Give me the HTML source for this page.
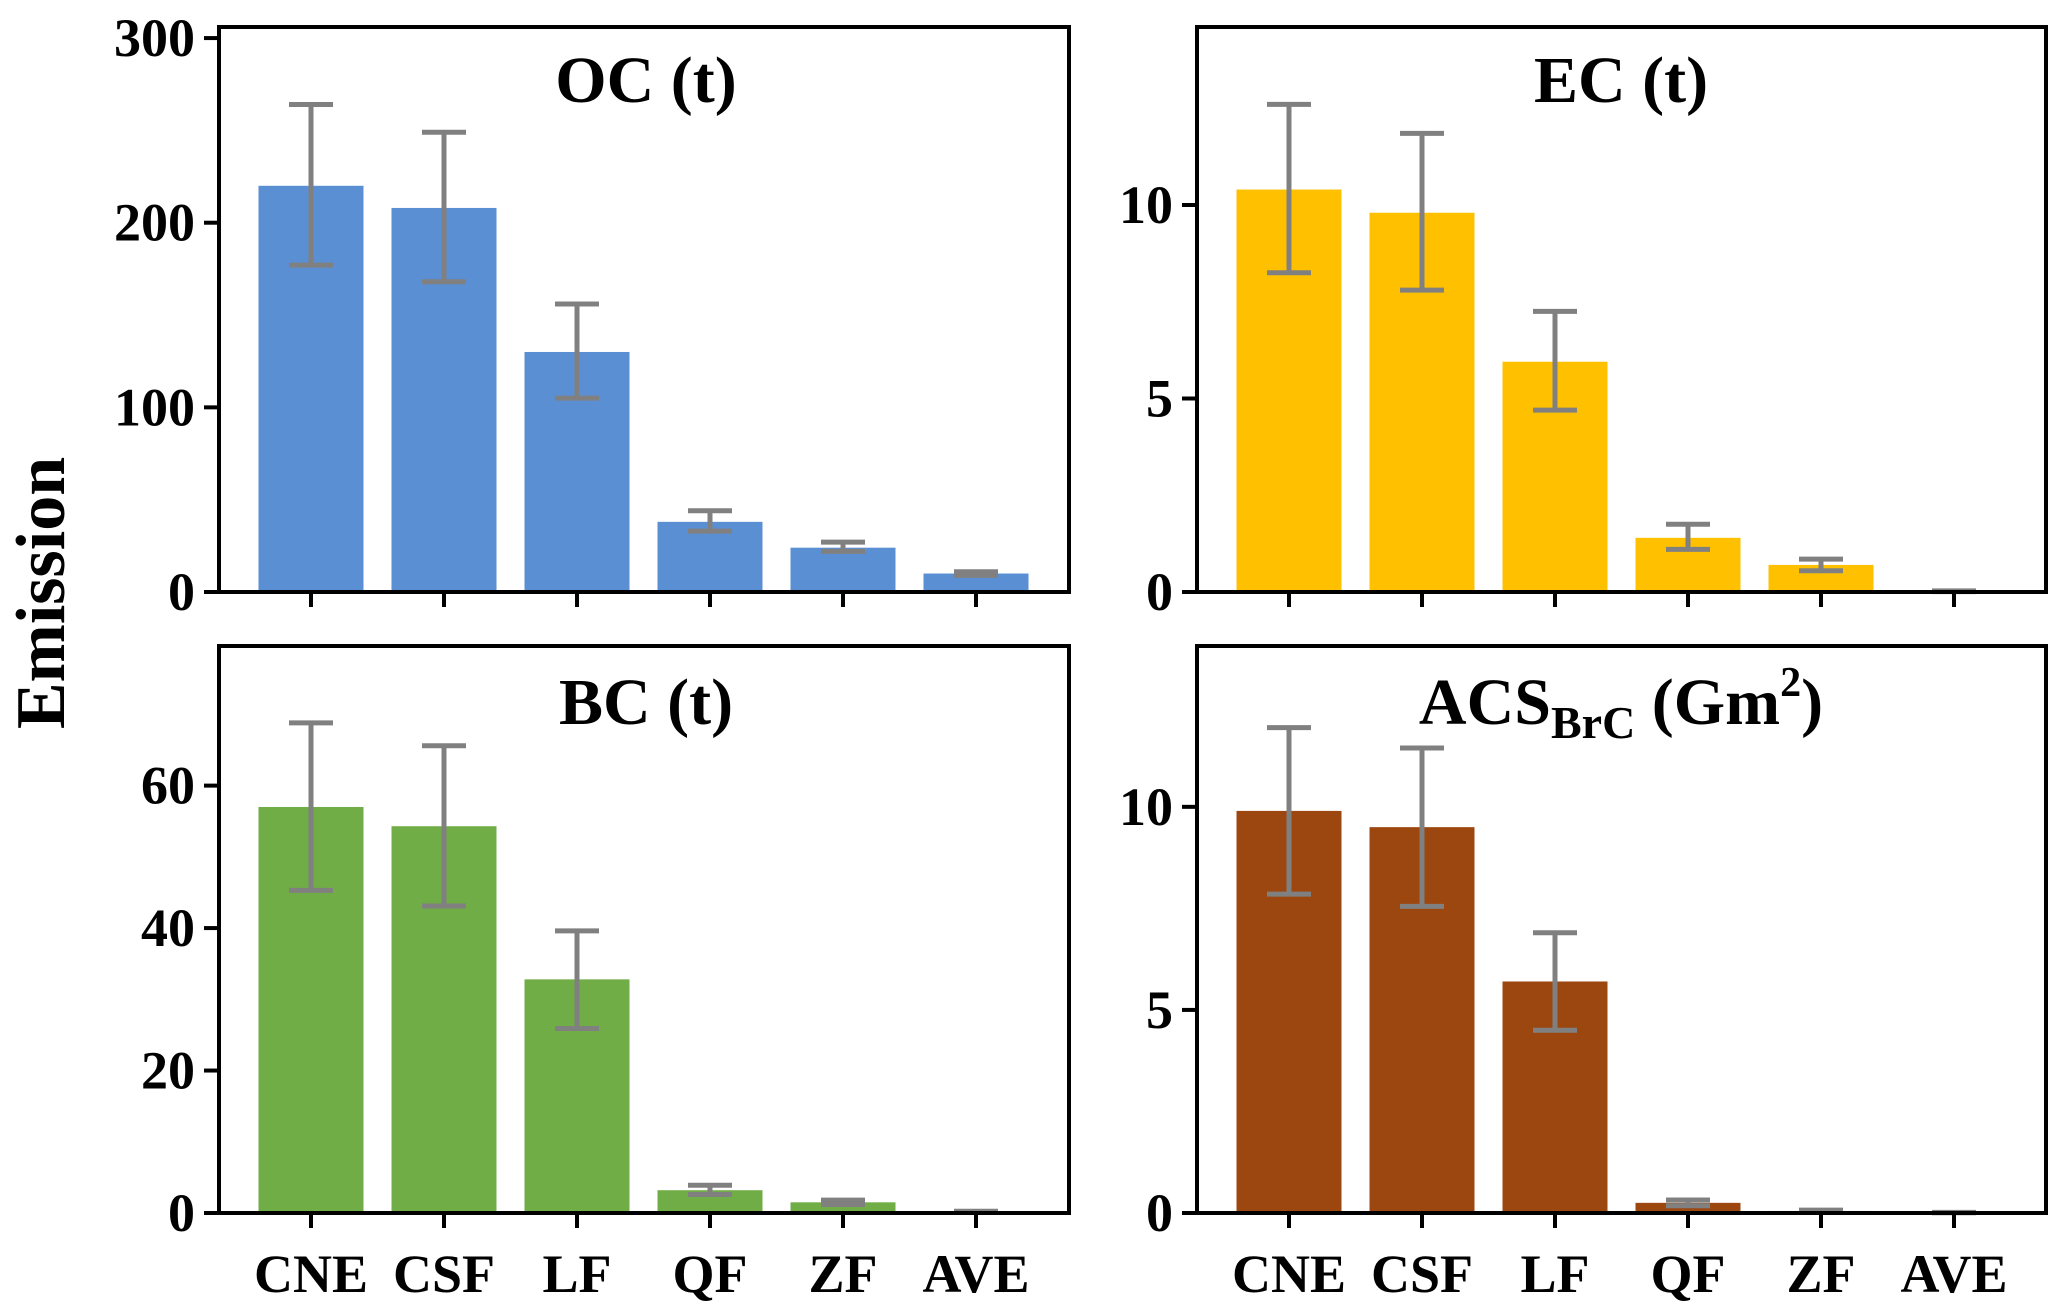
<!DOCTYPE html>
<html><head><meta charset="utf-8"><style>
html,body{margin:0;padding:0;background:#fff}
svg{display:block;font-family:"Liberation Serif",serif;font-weight:bold}
</style></head><body>
<svg id="chart" width="2067" height="1315" viewBox="0 0 2067 1315" xmlns="http://www.w3.org/2000/svg">
<text transform="translate(64,593) rotate(-90)" text-anchor="middle" font-size="70">Emission</text>
</svg>
<script>
const categories = ["CNE","CSF","LF","QF","ZF","AVE"];
const ocValues = [220,208,130,38,24,10];
const ocLow = [177,168,105,33,22,9];
const ocHigh = [264,249,156,44,27,11];
const ecValues = [10.4,9.8,5.95,1.4,0.7,0.02];
const ecLow = [8.25,7.8,4.7,1.1,0.55,0.01];
const ecHigh = [12.6,11.85,7.25,1.75,0.85,0.03];
const bcValues = [57,54.3,32.8,3.2,1.5,0.2];
const bcLow = [45.3,43.1,25.9,2.6,1.2,0.15];
const bcHigh = [68.8,65.6,39.6,3.9,1.8,0.25];
const acsValues = [9.9,9.5,5.7,0.25,0.05,0.01];
const acsLow = [7.85,7.55,4.5,0.18,0.03,0.005];
const acsHigh = [11.95,11.45,6.9,0.32,0.07,0.015];
const ocTicks = [0,100,200,300];
const ecTicks = [0,5,10];
const bcTicks = [0,20,40,60];
const acsTicks = [0,5,10];

const NS="http://www.w3.org/2000/svg";
const svg=document.getElementById('chart');
function mk(tag,attrs,parent){const e=document.createElementNS(NS,tag);for(const k in attrs)e.setAttribute(k,attrs[k]);(parent||svg).appendChild(e);return e;}

const panels=[
 {key:'oc',x0:219,x1:1069,y0:27,y1:592,ymax:306,color:'#5b8fd3',vals:ocValues,lo:ocLow,hi:ocHigh,ticks:ocTicks,title:'OC (t)',tx:646,ty:102,xl:false},
 {key:'ec',x0:1197,x1:2046,y0:27,y1:592,ymax:14.6,color:'#ffc000',vals:ecValues,lo:ecLow,hi:ecHigh,ticks:ecTicks,title:'EC (t)',tx:1621,ty:102,xl:false},
 {key:'bc',x0:219,x1:1069,y0:646,y1:1213,ymax:79.6,color:'#70ad47',vals:bcValues,lo:bcLow,hi:bcHigh,ticks:bcTicks,title:'BC (t)',tx:646,ty:724,xl:true},
 {key:'acs',x0:1197,x1:2046,y0:646,y1:1213,ymax:13.96,color:'#9c4710',vals:acsValues,lo:acsLow,hi:acsHigh,ticks:acsTicks,title:null,tx:1621,ty:724,xl:true}
];
panels.forEach(p=>{
 const g=mk('g',{});
 
 
 const yS=v=>p.y1-(v/p.ymax)*(p.y1-p.y0);
 const xS=i=>p.x0+92+i*133;
 categories.forEach((c,i)=>{
  const b=mk('rect',{x:xS(i)-52.5,y:yS(p.vals[i]),width:105,height:p.y1-yS(p.vals[i]),fill:p.color},g);
  
  
  const eg=mk('g',{stroke:'#808080','stroke-width':5},g);
  
  
  mk('line',{x1:xS(i),x2:xS(i),y1:yS(p.lo[i]),y2:yS(p.hi[i])},eg);
  mk('line',{x1:xS(i)-22,x2:xS(i)+22,y1:yS(p.lo[i]),y2:yS(p.lo[i])},eg);
  mk('line',{x1:xS(i)-22,x2:xS(i)+22,y1:yS(p.hi[i]),y2:yS(p.hi[i])},eg);
  mk('line',{x1:xS(i),x2:xS(i),y1:p.y1,y2:p.y1+15,stroke:'#000','stroke-width':4},g);
  if(p.xl){
   const t=mk('text',{x:xS(i),y:1292,'text-anchor':'middle','font-size':54},g);
   t.textContent=c;
   
   
  }
 });
 p.ticks.forEach(v=>{
  mk('line',{x1:p.x0-15,x2:p.x0,y1:yS(v),y2:yS(v),stroke:'#000','stroke-width':4},g);
  const t=mk('text',{x:p.x0-24,y:yS(v)+18,'text-anchor':'end','font-size':54},g);
  t.textContent=v;
  
  
 });
 const fr=mk('rect',{x:p.x0,y:p.y0,width:p.x1-p.x0,height:p.y1-p.y0,fill:'none',stroke:'#000','stroke-width':4},g);
 
 
 const t=mk('text',{x:p.tx,y:p.ty,'text-anchor':'middle','font-size':66},g);
 
 
 if(p.title){t.textContent=p.title;}
 else{
  t.innerHTML='ACS<tspan font-size="46" dy="14">BrC</tspan><tspan dy="-14"> (Gm</tspan><tspan font-size="42" dy="-28">2</tspan><tspan dy="28">)</tspan>';
 }
});
</script>
</body></html>
